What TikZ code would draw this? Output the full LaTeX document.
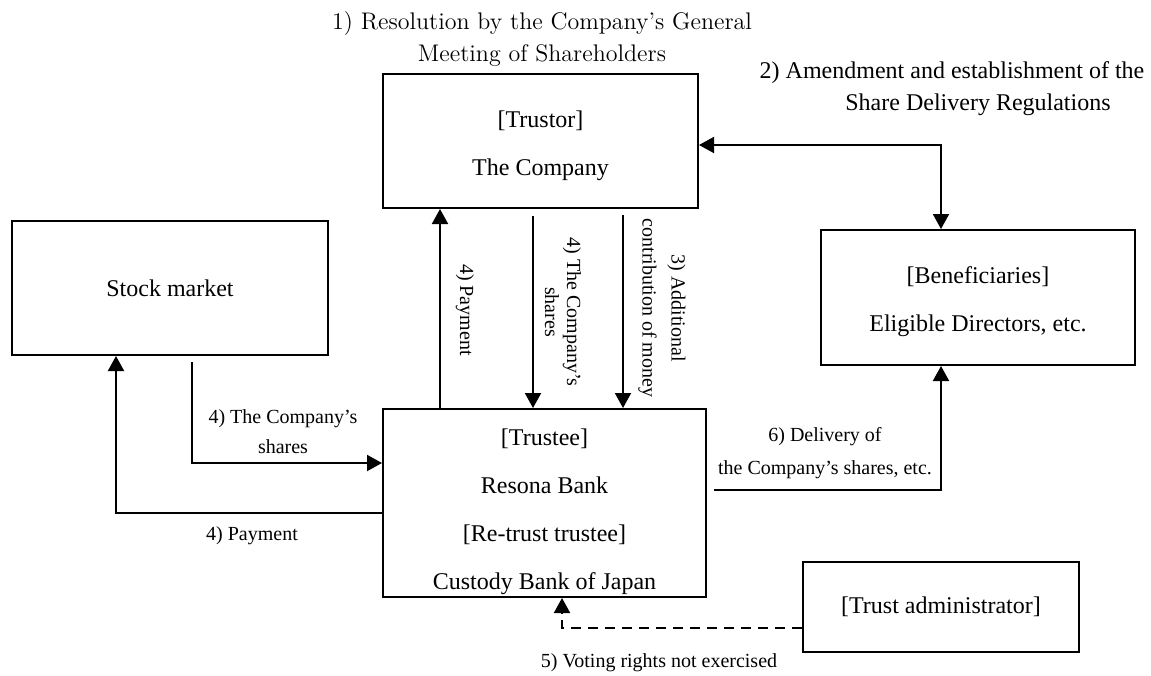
\documentclass[tikz,border=0pt]{standalone}
\usepackage{fontspec}
\setmainfont{Liberation Serif}
\usetikzlibrary{arrows.meta,positioning}

\begin{document}
\begin{tikzpicture}[x=0.5pt,y=-0.5pt,
  box/.style={draw, line width=1pt, inner sep=0pt, align=center, font=\fontsize{12}{24}\selectfont},
  arr/.style={line width=1pt, -{Triangle[length=7.5pt,width=8pt]}},
  lbl/.style={inner sep=0pt, align=center, font=\fontsize{10}{15}\selectfont}]
\useasboundingbox (0,0) rectangle (1151,675);

% parties
\node[box, minimum width=157.5pt, minimum height=67pt] (company) at (540.5,141) {\rule{0pt}{13pt}[Trustor]\\The Company};
\node[box, minimum width=158pt, minimum height=67pt] (stock) at (170,288) {Stock market};
\node[box, minimum width=157pt, minimum height=67.5pt] (benef) at (978,297.5) {\rule{0pt}{13pt}[Beneficiaries]\\Eligible Directors, etc.};
\node[box, minimum width=161.5pt, minimum height=94pt] (trustee) at (544.5,503) {\rule{0pt}{17pt}[Trustee]\\Resona Bank\\{[Re-trust trustee]}\\Custody Bank of Japan};
\node[box, minimum width=138pt, minimum height=45pt] (admin) at (941,607) {[Trust administrator]};

% lanes of the vertical connectors
\coordinate (laneP) at (116,0);
\coordinate (laneS) at (192,0);
\coordinate (laneA) at (440,0);
\coordinate (laneB) at (533,0);
\coordinate (laneC) at (623,0);
\coordinate (laneV) at (562,0);

% connectors
\draw[arr, {Triangle[length=7.5pt,width=8pt]}-{Triangle[length=7.5pt,width=8pt]}] ([yshift=-2pt]company.east) -| (benef.north -| admin);
\draw[arr] (trustee.north -| laneA) -- (company.south -| laneA);
\draw[arr, shorten <=3.5pt] (company.south -| laneB) -- (trustee.north -| laneB);
\draw[arr, shorten <=3pt] (company.south -| laneC) -- (trustee.north -| laneC);
\draw[arr, shorten <=3pt] (stock.south -| laneS) |- ([yshift=20pt]trustee.west);
\draw[arr] ([yshift=-5pt]trustee.west) -| (stock.south -| laneP);
\draw[arr, shorten <=3.5pt] ([yshift=6.5pt]trustee.east) -| (benef.south -| admin);
\draw[arr, dash pattern=on 5pt off 3.5pt] ([yshift=-10.5pt]admin.west) -| (trustee.south -| laneV);

% labels
\node[inner sep=0pt, align=center, font=\fontfamily{lmr}\fontsize{12}{16}\selectfont] (lblresol) at (542,39) {1) Resolution by the Company’s General\\Meeting of Shareholders};
\node[inner sep=0pt, align=center, font=\fontsize{12}{16}\selectfont] (lblamend) at (952,89) {2) Amendment and establishment of the\\\hspace*{26pt}Share Delivery Regulations};
\node[lbl, rotate=-90] (lblpayup) at (465,310) {4) Payment};
\node[lbl, rotate=-90, font=\fontsize{10}{11}\selectfont] (lblshdown) at (563,312) {4) The Company’s\\shares};
\node[lbl, rotate=-90, font=\fontsize{10}{14.5}\selectfont] (lblmoney) at (662,308) {3) Additional\\contribution of money};
\node[lbl] (lblshmkt) at (283,432) {4) The Company’s\\shares};
\node[lbl] (lblpaymkt) at (252,536) {4) Payment};
\node[lbl, font=\fontsize{10}{16.5}\selectfont] (lbldeliv) at (825,453) {6) Delivery of\\the Company’s shares, etc.};
\node[lbl] (lblvote) at (659,663) {5) Voting rights not exercised};
\end{tikzpicture}
\end{document}
